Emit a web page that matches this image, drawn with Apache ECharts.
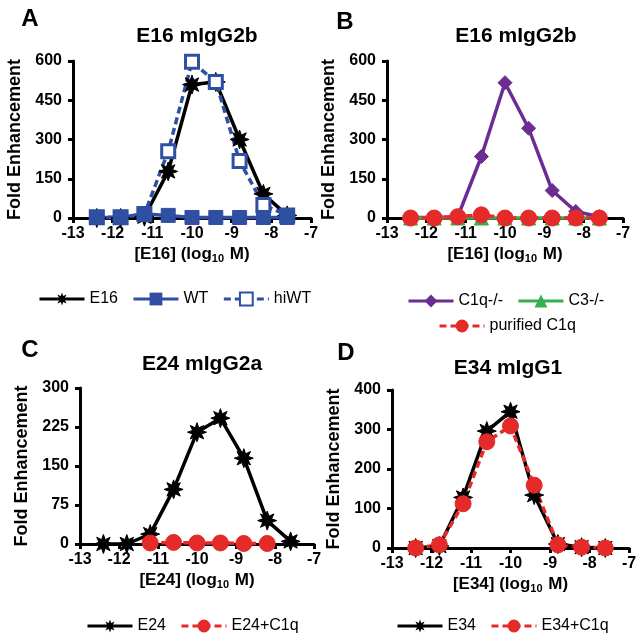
<!DOCTYPE html>
<html>
<head>
<meta charset="utf-8">
<script src="https://cdn.jsdelivr.net/npm/echarts@6/dist/echarts.min.js"></script>
<style>
  html, body { margin: 0; padding: 0; background: #fff; }
  #chart { width: 642px; height: 640px; }
</style>
</head>
<body>
<div id="chart"></div>
<script>
// data -------------------------------------
var doses = [-12.4, -11.8, -11.2, -10.6, -10.0, -9.4, -8.8, -8.2, -7.6];
var xTicks = [-13, -12, -11, -10, -9, -8, -7];

var e16 = [0, 0, 5, 178, 510, 520, 300, 92, 10];
var wt = [2, 2, 15, 10, 2, 2, 2, 2, 2];
var hiWT = [3, 3, 15, 255, 597, 520, 218, 50, 10];

var c1qKO = [2, 2, 5, 235, 517, 343, 105, 25, 5];
var c3KO = [0, 0, 0, 0, 0, 0, 0, 0, 0];
var purifiedC1q = [0, 0, 5, 12, 0, 0, 0, 0, 0];

var e24 = [0, 0, 19, 105, 215, 242, 165, 45, 5];
var e24C1q = [null, null, 2, 3, 2, 2, 1, 1, null];

var e34 = [0, 5, 128, 296, 345, 134, 10, 2, 0];
var e34C1q = [0, 8, 112, 269, 309, 159, 8, 2, 0];

var yTicksA = [0, 150, 300, 450, 600];
var yTicksC = [0, 75, 150, 225, 300];
var yTicksD = [0, 100, 200, 300, 400];

var BLUE = '#2f4fa2';
var PURPLE = '#6b2d91';
var GREEN = '#35b04a';
var RED = '#e52a2a';
var FONT = 'Liberation Sans, Arial, sans-serif';

// 粗星号
var STAR = 'path://M20 10 L14.6 11.9 L17.07 17.07 L11.9 14.6 L10 20 L8.1 14.6 L2.93 17.07 L5.4 11.9 L0 10 L5.4 8.1 L2.93 2.93 L8.1 5.4 L10 0 L11.9 5.4 L17.07 2.93 L14.6 8.1 Z';

function pairs(ys) {
    var out = [];
    for (var i = 0; i < doses.length; i++) {
        out.push([doses[i], ys[i]]);
    }
    return out;
}

function xAxisOf(idx, label) {
    return {
        type: 'value', gridIndex: idx,
        min: xTicks[0], max: xTicks[xTicks.length - 1], interval: 1,
        name: '[' + label + '] (log{sub|10} M)',
        nameLocation: 'middle', nameGap: 26,
        nameTextStyle: {
            color: '#000', fontWeight: 'bold', fontSize: 17, fontFamily: FONT,
            rich: {
                sub: { fontSize: 11, fontWeight: 'bold', fontFamily: FONT, color: '#000', padding: [9, 1, 0, 0] }
            }
        },
        axisLine: { lineStyle: { color: '#000', width: 3 } },
        axisTick: { length: 5, lineStyle: { color: '#000', width: 3 } },
        axisLabel: { color: '#000', fontWeight: 'bold', fontSize: 16, fontFamily: FONT, margin: 8 },
        splitLine: { show: false }
    };
}

function yAxisOf(idx, ticks) {
    return {
        type: 'value', gridIndex: idx,
        min: ticks[0], max: ticks[ticks.length - 1], interval: ticks[1] - ticks[0],
        name: 'Fold Enhancement',
        nameLocation: 'middle', nameGap: 49,
        nameTextStyle: { color: '#000', fontWeight: 'bold', fontSize: 18, fontFamily: FONT },
        axisLine: { show: true, lineStyle: { color: '#000', width: 3 } },
        axisTick: { show: true, length: 5, lineStyle: { color: '#000', width: 3 } },
        axisLabel: { color: '#000', fontWeight: 'bold', fontSize: 16, fontFamily: FONT, margin: 11 },
        splitLine: { show: false }
    };
}

function line(name, idx, ys, color, symbol, size, dashed, extra) {
    var s = {
        name: name, type: 'line', xAxisIndex: idx, yAxisIndex: idx,
        data: pairs(ys), clip: false, connectNulls: false,
        symbol: symbol, symbolSize: size,
        lineStyle: { color: color, width: 3.5, type: dashed ? [7, 4] : 'solid' },
        itemStyle: { color: color, borderColor: color },
        emphasis: { disabled: true }
    };
    if (extra) {
        for (var k in extra) s[k] = extra[k];
    }
    return s;
}

function legendOf(left, top, names) {
    return {
        left: left, top: top, data: names,
        itemWidth: 45, itemHeight: 16, itemGap: 14,
        lineStyle: { width: 3 },
        textStyle: { color: '#000', fontSize: 16, fontFamily: FONT },
        selectedMode: false
    };
}

function titleOf(text, x, y, size) {
    return {
        text: text, left: x, top: y, textAlign: 'center',
        textStyle: { color: '#000', fontWeight: 'bold', fontSize: size, fontFamily: FONT }
    };
}

var myChart = echarts.init(document.getElementById('chart'));

var option = {
    animation: false,
    backgroundColor: '#fff',
    title: [
        titleOf('A', 25, 2, 24),
        titleOf('B', 340, 5, 24),
        titleOf('C', 25, 333, 24),
        titleOf('D', 341, 336, 24),
        titleOf('E16 mIgG2b', 192, 21, 21),
        titleOf('E16 mIgG2b', 511, 21, 21),
        titleOf('E24 mIgG2a', 197, 349, 21),
        titleOf('E34 mIgG1', 503, 353, 21)
    ],
    grid: [
        { left: 73, top: 61, width: 238, height: 157 },
        { left: 387, top: 61, width: 236, height: 157 },
        { left: 80, top: 388, width: 234, height: 156 },
        { left: 392, top: 390, width: 237, height: 158 }
    ],
    xAxis: [xAxisOf(0, 'E16'), xAxisOf(1, 'E16'), xAxisOf(2, 'E24'), xAxisOf(3, 'E34')],
    yAxis: [yAxisOf(0, yTicksA), yAxisOf(1, yTicksA), yAxisOf(2, yTicksC), yAxisOf(3, yTicksD)],
    legend: [
        legendOf(33, 286, ['E16', 'WT', 'hiWT']),
        legendOf(402, 288, ['C1q-/-', 'C3-/-']),
        legendOf(433, 313, ['purified C1q']),
        legendOf(81, 613, ['E24', 'E24+C1q']),
        legendOf(391, 613, ['E34', 'E34+C1q'])
    ],
    series: [
        // A
        line('E16', 0, e16, '#000', STAR, 19, false),
        line('hiWT', 0, hiWT, BLUE, 'rect', 13, true, {
            itemStyle: { color: '#fff', borderColor: BLUE, borderWidth: 3 }
        }),
        line('WT', 0, wt, BLUE, 'rect', 14, false),
        // B
        line('C1q-/-', 1, c1qKO, PURPLE, 'diamond', 14, false),
        line('C3-/-', 1, c3KO, GREEN, 'triangle', 14, false),
        line('purified C1q', 1, purifiedC1q, RED, 'circle', 16, true),
        // C
        line('E24', 2, e24, '#000', STAR, 19, false),
        line('E24+C1q', 2, e24C1q, RED, 'circle', 16, true),
        // D
        line('E34', 3, e34, '#000', STAR, 19, false),
        line('E34+C1q', 3, e34C1q, RED, 'circle', 16, true)
    ]
};
myChart.setOption(option);

window.addEventListener('resize', function () {
    myChart.resize();
});
</script>
</body>
</html>
